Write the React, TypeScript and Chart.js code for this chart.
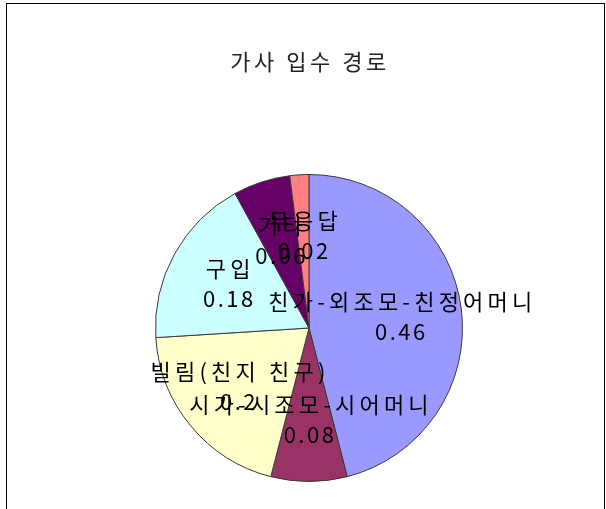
import React, { useEffect, useRef } from "react";
import { Chart, registerables } from "chart.js";

Chart.register(...registerables);

const TITLE = "가사 입수 경로";
const categories = [
  "친가-외조모-친정어머니",
  "시가-시조모-시어머니",
  "빌림(친지 친구)",
  "구입",
  "기타",
  "무응답",
];
const values = [0.46, 0.08, 0.2, 0.18, 0.06, 0.02];
const colors = ["#9999FF", "#993366", "#FFFFCC", "#CCFFFF", "#660066", "#FF8080"];

const FONT = '"Noto Sans CJK KR", "Noto Sans", sans-serif';

const framePlugin = {
  id: "frame",
  beforeDraw(chart: any) {
    const ctx = chart.ctx;
    ctx.save();
    ctx.fillStyle = "#ffffff";
    ctx.fillRect(0, 0, chart.width, chart.height);
    ctx.strokeStyle = "#000000";
    ctx.lineWidth = 1;
    ctx.strokeRect(6.5, 3.5, 598, 540);
    ctx.fillStyle = "#222222";
    ctx.font = `22px ${FONT}`;
    (ctx as any).letterSpacing = "3.5px";
    ctx.textAlign = "center";
    ctx.textBaseline = "middle";
    ctx.fillText(TITLE, 310, 62);
    ctx.restore();
  },
};

const labelPlugin = {
  id: "sliceLabels",
  afterDatasetsDraw(chart: any) {
    const ctx = chart.ctx;
    const meta = chart.getDatasetMeta(0);
    const data = chart.data.datasets[0].data;
    const labels = chart.data.labels;
    ctx.save();
    ctx.fillStyle = "#000000";
    ctx.font = `22px ${FONT}`;
    ctx.textAlign = "center";
    ctx.textBaseline = "middle";
    meta.data.forEach((arc: any, i: number) => {
      const p = arc.getProps(["x", "y", "startAngle", "endAngle", "outerRadius"], true);
      const mid = (p.startAngle + p.endAngle) / 2;
      const r = p.outerRadius * 0.6;
      const cx = p.x + Math.cos(mid) * r;
      const cy = p.y + Math.sin(mid) * r;
      (ctx as any).letterSpacing = "4.2px";
      ctx.fillText(String(labels[i]), cx + 2, cy - 15);
      (ctx as any).letterSpacing = "2.5px";
      ctx.fillText(String(data[i]), cx + 1, cy + 15);
    });
    ctx.restore();
  },
};

export default function App() {
  const ref = useRef<HTMLCanvasElement | null>(null);
  useEffect(() => {
    if (!ref.current) return;
    const chart = new Chart(ref.current, {
      type: "pie",
      data: {
        labels: categories,
        datasets: [
          {
            data: values,
            backgroundColor: colors,
            borderColor: "#3a3a3a",
            borderWidth: 1,
          },
        ],
      },
      options: {
        animation: false,
        responsive: false,
        maintainAspectRatio: false,
        layout: { padding: { left: 155, right: 143, top: 174, bottom: 27 } },
        plugins: {
          legend: { display: false },
          title: { display: false },
          tooltip: { enabled: false },
        },
      },
      plugins: [framePlugin, labelPlugin],
    });
    return () => chart.destroy();
  }, []);
  return (
    <div style={{ position: "absolute", left: 0, top: 0, width: 606, height: 509 }}>
      <canvas ref={ref} width={606} height={509} style={{ width: 606, height: 509, display: "block" }} />
    </div>
  );
}
